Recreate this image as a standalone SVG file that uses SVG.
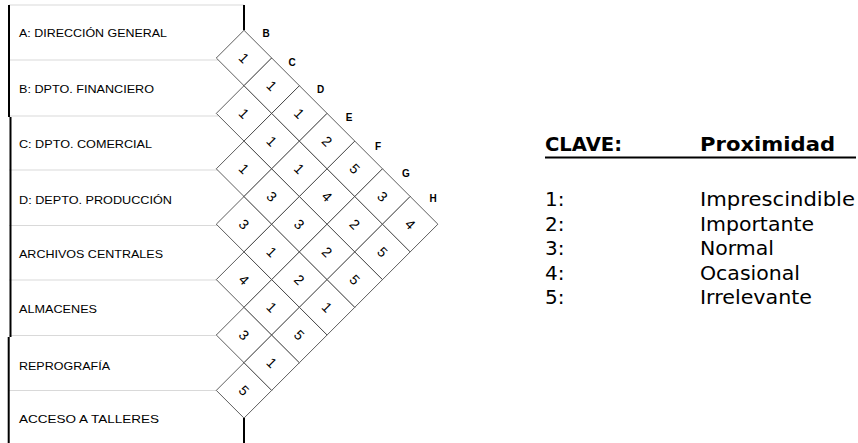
<svg xmlns="http://www.w3.org/2000/svg" xmlns:xlink="http://www.w3.org/1999/xlink" width="858" height="443" viewBox="0 0 858 443">
<style>
.lbl{font-family:"Liberation Sans",Arial,sans-serif;font-size:11px;fill:#000}
.col{font-family:"Liberation Sans",Arial,sans-serif;font-size:10px;font-weight:bold;fill:#000;text-anchor:middle}
.num{font-family:"Liberation Sans",Arial,sans-serif;font-size:14px;fill:#000;text-anchor:middle}
.sep{stroke:#d9d9d9;stroke-width:1;fill:none}
.blk{stroke:#000;stroke-width:2;fill:none}
.cell{fill:#fff;stroke:#333;stroke-width:0.8}
.kh{font-family:"DejaVu Sans",Verdana,sans-serif;font-size:19px;font-weight:bold;fill:#000}
.kt{font-family:"DejaVu Sans",Verdana,sans-serif;font-size:20px;fill:#000}
</style>
<defs>
<path id="d" d="M0,-27.7 L27.7,0 L0,27.7 L-27.7,0Z"/>
</defs>
<rect width="858" height="443" fill="#fff"/>
<g id="frame">
<line class="sep" x1="9" y1="5" x2="244" y2="5"/>
<line class="sep" x1="9" y1="60" x2="218" y2="60"/>
<line class="sep" x1="9" y1="116" x2="218" y2="116"/>
<line class="sep" x1="9" y1="170" x2="218" y2="170"/>
<line class="sep" x1="9" y1="225.5" x2="218" y2="225.5"/>
<line class="sep" x1="9" y1="280" x2="218" y2="280"/>
<line class="sep" x1="9" y1="335.5" x2="218" y2="335.5"/>
<line class="sep" x1="9" y1="390.5" x2="218" y2="390.5"/>
<line class="blk" x1="9" y1="5" x2="9" y2="117"/>
<line class="blk" x1="10.5" y1="117" x2="10.5" y2="337"/>
<line class="blk" x1="8.7" y1="337" x2="8.7" y2="443"/>
<line class="blk" x1="244" y1="5" x2="244" y2="30.3"/>
<line class="blk" x1="244" y1="418" x2="244" y2="443"/>
</g>
<g id="row-A"><text class="lbl" x="19" y="37.3" textLength="148" lengthAdjust="spacingAndGlyphs">A: DIRECCIÓN GENERAL</text></g>
<g id="row-B"><text class="lbl" x="19" y="93.3" textLength="135" lengthAdjust="spacingAndGlyphs">B: DPTO. FINANCIERO</text></g>
<g id="row-C"><text class="lbl" x="19" y="148.3" textLength="133" lengthAdjust="spacingAndGlyphs">C: DPTO. COMERCIAL</text></g>
<g id="row-D"><text class="lbl" x="19" y="204" textLength="153" lengthAdjust="spacingAndGlyphs">D: DEPTO. PRODUCCIÓN</text></g>
<g id="row-E"><text class="lbl" x="19" y="258.3" textLength="144" lengthAdjust="spacingAndGlyphs">ARCHIVOS CENTRALES</text></g>
<g id="row-F"><text class="lbl" x="19" y="312.7" textLength="78" lengthAdjust="spacingAndGlyphs">ALMACENES</text></g>
<g id="row-G"><text class="lbl" x="19" y="370" textLength="91" lengthAdjust="spacingAndGlyphs">REPROGRAFÍA</text></g>
<g id="row-H"><text class="lbl" x="19" y="423" textLength="140" lengthAdjust="spacingAndGlyphs">ACCESO A TALLERES</text></g>
<g id="columns">
<text class="col" x="266" y="36.6">B</text>
<text class="col" x="292" y="65.6">C</text>
<text class="col" x="320.5" y="92.9">D</text>
<text class="col" x="349" y="120.9">E</text>
<text class="col" x="378" y="149.6">F</text>
<text class="col" x="406" y="176.9">G</text>
<text class="col" x="433" y="201.9">H</text>
</g>
<g id="matrix">
<g id="c-AB"><use xlink:href="#d" href="#d" class="cell" x="244" y="58"/><text class="num" transform="translate(244,58) rotate(45)" y="5">1</text></g>
<g id="c-BC"><use xlink:href="#d" href="#d" class="cell" x="244" y="113.4"/><text class="num" transform="translate(244,113.4) rotate(45)" y="5">1</text></g>
<g id="c-CD"><use xlink:href="#d" href="#d" class="cell" x="244" y="168.8"/><text class="num" transform="translate(244,168.8) rotate(45)" y="5">1</text></g>
<g id="c-DE"><use xlink:href="#d" href="#d" class="cell" x="244" y="224.2"/><text class="num" transform="translate(244,224.2) rotate(45)" y="5">3</text></g>
<g id="c-EF"><use xlink:href="#d" href="#d" class="cell" x="244" y="279.6"/><text class="num" transform="translate(244,279.6) rotate(45)" y="5">4</text></g>
<g id="c-FG"><use xlink:href="#d" href="#d" class="cell" x="244" y="335"/><text class="num" transform="translate(244,335) rotate(45)" y="5">3</text></g>
<g id="c-GH"><use xlink:href="#d" href="#d" class="cell" x="244" y="390.4"/><text class="num" transform="translate(244,390.4) rotate(45)" y="5">5</text></g>
<g id="c-AC"><use xlink:href="#d" href="#d" class="cell" x="271.7" y="85.7"/><text class="num" transform="translate(271.7,85.7) rotate(45)" y="5">1</text></g>
<g id="c-BD"><use xlink:href="#d" href="#d" class="cell" x="271.7" y="141.1"/><text class="num" transform="translate(271.7,141.1) rotate(45)" y="5">1</text></g>
<g id="c-CE"><use xlink:href="#d" href="#d" class="cell" x="271.7" y="196.5"/><text class="num" transform="translate(271.7,196.5) rotate(45)" y="5">3</text></g>
<g id="c-DF"><use xlink:href="#d" href="#d" class="cell" x="271.7" y="251.9"/><text class="num" transform="translate(271.7,251.9) rotate(45)" y="5">1</text></g>
<g id="c-EG"><use xlink:href="#d" href="#d" class="cell" x="271.7" y="307.3"/><text class="num" transform="translate(271.7,307.3) rotate(45)" y="5">1</text></g>
<g id="c-FH"><use xlink:href="#d" href="#d" class="cell" x="271.7" y="362.7"/><text class="num" transform="translate(271.7,362.7) rotate(45)" y="5">1</text></g>
<g id="c-AD"><use xlink:href="#d" href="#d" class="cell" x="299.4" y="113.4"/><text class="num" transform="translate(299.4,113.4) rotate(45)" y="5">1</text></g>
<g id="c-BE"><use xlink:href="#d" href="#d" class="cell" x="299.4" y="168.8"/><text class="num" transform="translate(299.4,168.8) rotate(45)" y="5">1</text></g>
<g id="c-CF"><use xlink:href="#d" href="#d" class="cell" x="299.4" y="224.2"/><text class="num" transform="translate(299.4,224.2) rotate(45)" y="5">3</text></g>
<g id="c-DG"><use xlink:href="#d" href="#d" class="cell" x="299.4" y="279.6"/><text class="num" transform="translate(299.4,279.6) rotate(45)" y="5">2</text></g>
<g id="c-EH"><use xlink:href="#d" href="#d" class="cell" x="299.4" y="335"/><text class="num" transform="translate(299.4,335) rotate(45)" y="5">5</text></g>
<g id="c-AE"><use xlink:href="#d" href="#d" class="cell" x="327.1" y="141.1"/><text class="num" transform="translate(327.1,141.1) rotate(45)" y="5">2</text></g>
<g id="c-BF"><use xlink:href="#d" href="#d" class="cell" x="327.1" y="196.5"/><text class="num" transform="translate(327.1,196.5) rotate(45)" y="5">4</text></g>
<g id="c-CG"><use xlink:href="#d" href="#d" class="cell" x="327.1" y="251.9"/><text class="num" transform="translate(327.1,251.9) rotate(45)" y="5">2</text></g>
<g id="c-DH"><use xlink:href="#d" href="#d" class="cell" x="327.1" y="307.3"/><text class="num" transform="translate(327.1,307.3) rotate(45)" y="5">1</text></g>
<g id="c-AF"><use xlink:href="#d" href="#d" class="cell" x="354.8" y="168.8"/><text class="num" transform="translate(354.8,168.8) rotate(45)" y="5">5</text></g>
<g id="c-BG"><use xlink:href="#d" href="#d" class="cell" x="354.8" y="224.2"/><text class="num" transform="translate(354.8,224.2) rotate(45)" y="5">2</text></g>
<g id="c-CH"><use xlink:href="#d" href="#d" class="cell" x="354.8" y="279.6"/><text class="num" transform="translate(354.8,279.6) rotate(45)" y="5">5</text></g>
<g id="c-AG"><use xlink:href="#d" href="#d" class="cell" x="382.5" y="196.5"/><text class="num" transform="translate(382.5,196.5) rotate(45)" y="5">3</text></g>
<g id="c-BH"><use xlink:href="#d" href="#d" class="cell" x="382.5" y="251.9"/><text class="num" transform="translate(382.5,251.9) rotate(45)" y="5">5</text></g>
<g id="c-AH"><use xlink:href="#d" href="#d" class="cell" x="410.2" y="224.2"/><text class="num" transform="translate(410.2,224.2) rotate(45)" y="5">4</text></g>
</g>
<g id="legend">
<text class="kh" x="545" y="151" textLength="77" lengthAdjust="spacingAndGlyphs">CLAVE:</text>
<text class="kh" x="700" y="151" textLength="135" lengthAdjust="spacingAndGlyphs">Proximidad</text>
<line x1="545" y1="157.5" x2="856" y2="157.5" stroke="#000" stroke-width="2"/>
<text class="kt" x="545" y="206">1:</text>
<text class="kt" x="700" y="206" textLength="155" lengthAdjust="spacingAndGlyphs">Imprescindible</text>
<text class="kt" x="545" y="230.5">2:</text>
<text class="kt" x="700" y="230.5" textLength="114" lengthAdjust="spacingAndGlyphs">Importante</text>
<text class="kt" x="545" y="255">3:</text>
<text class="kt" x="700" y="255" textLength="74" lengthAdjust="spacingAndGlyphs">Normal</text>
<text class="kt" x="545" y="279.5">4:</text>
<text class="kt" x="700" y="279.5" textLength="100" lengthAdjust="spacingAndGlyphs">Ocasional</text>
<text class="kt" x="545" y="304">5:</text>
<text class="kt" x="700" y="304" textLength="112" lengthAdjust="spacingAndGlyphs">Irrelevante</text>
</g>
</svg>
